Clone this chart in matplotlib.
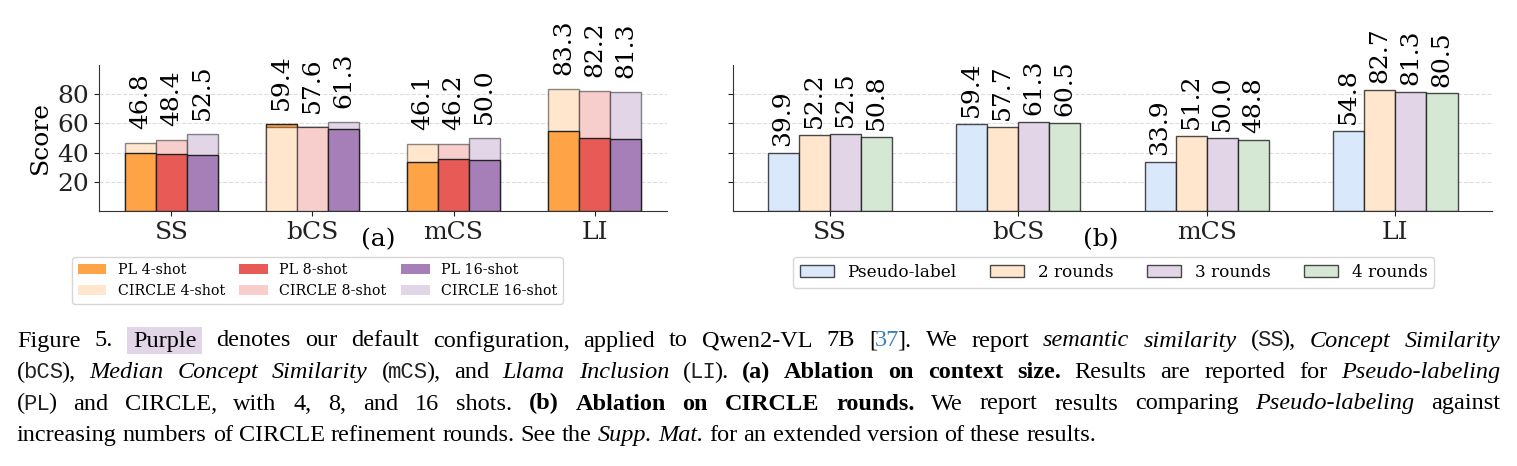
import matplotlib
matplotlib.use('Agg')
import matplotlib.pyplot as plt
import numpy as np
from matplotlib.patches import Patch, Rectangle

metrics = ['SS', 'bCS', 'mCS', 'LI']

# (a) ablation on context size
shots = ['4-shot', '8-shot', '16-shot']
pl_scores = [
    [39.9, 59.4, 33.9, 54.8],   # PL 4-shot
    [39.1, 57.6, 35.8, 50.0],   # PL 8-shot
    [38.4, 56.1, 34.6, 49.6],   # PL 16-shot
]
circle_scores = [
    [46.8, 57.7, 46.1, 83.3],   # CIRCLE 4-shot
    [48.4, 57.6, 46.2, 82.2],   # CIRCLE 8-shot
    [52.5, 61.3, 50.0, 81.3],   # CIRCLE 16-shot
]
pl_colors = ['#ffa347', '#e85a56', '#a67fb8']
circle_colors = ['#ffe6cc', '#f8cecc', '#e1d5e7']

# (b) ablation on CIRCLE rounds
rounds = ['Pseudo-label', '2 rounds', '3 rounds', '4 rounds']
round_scores = [
    [39.9, 59.4, 33.9, 54.8],
    [52.2, 57.7, 51.2, 82.7],
    [52.5, 61.3, 50.0, 81.3],
    [50.8, 60.5, 48.8, 80.5],
]
round_colors = ['#dae8fc', '#ffe6cc', '#e1d5e7', '#d5e8d4']

plt.rcParams['font.family'] = 'DejaVu Serif'

W, H = 1517, 466
fig = plt.figure(figsize=(W / 100, H / 100), dpi=100)


def fx(px):
    return px / W


def fy(py):
    return 1 - py / H


ax_a = fig.add_axes([fx(99), fy(211), (667 - 99) / W, (211 - 65) / H])
ax_b = fig.add_axes([fx(733), fy(211), (1492 - 733) / W, (211 - 65) / H], sharey=ax_a)

for ax in (ax_a, ax_b):
    for s in ('top', 'right'):
        ax.spines[s].set_visible(False)
    for s in ('left', 'bottom'):
        ax.spines[s].set_color('#333333')
    ax.grid(axis='y', linestyle='--', color='#dddddd', linewidth=0.8)
    ax.set_axisbelow(True)
    ax.tick_params(labelsize=18, colors='#222222')

x = np.arange(len(metrics))

# ---- (a)
w = 0.22
for i in range(len(shots)):
    xs = x + (i - 1) * w
    pl = np.array(pl_scores[i])
    cs = np.array(circle_scores[i])
    under = pl >= cs
    ax_a.bar(xs[under], pl[under], w, color=pl_colors[i], edgecolor='#222222', linewidth=1, zorder=2)
    ax_a.bar(xs, cs, w, color=circle_colors[i], edgecolor=(0, 0, 0, 0.45), linewidth=1, zorder=3)
    ax_a.bar(xs[~under], pl[~under], w, color=pl_colors[i], edgecolor='#222222', linewidth=1, zorder=4)
    for xi, top in zip(xs, np.maximum(pl, cs)):
        ax_a.annotate(f'{top:.1f}', (xi, top), xytext=(0, 10), textcoords='offset points',
                      rotation=90, ha='center', va='bottom', fontsize=18)

ax_a.set_ylim(0, 100)
ax_a.set_yticks([20, 40, 60, 80])
ax_a.set_xticks(x)
ax_a.set_xticklabels(metrics)
ax_a.set_ylabel('Score', fontsize=18)
ax_a.text(0.491, -0.2, '(a)', transform=ax_a.transAxes, ha='center', va='center', fontsize=18)

handles = []
for i, shot in enumerate(shots):
    handles.append(Patch(facecolor=pl_colors[i], label=f'PL {shot}'))
    handles.append(Patch(facecolor=circle_colors[i], label=f'CIRCLE {shot}'))
ax_a.legend(handles=handles, ncol=3, fontsize=10.3, loc='upper left', columnspacing=1.0,
            bbox_to_anchor=(fx(72), fy(257)), bbox_transform=fig.transFigure,
            borderaxespad=0)

# ---- (b)
wb = 0.165
for i, name in enumerate(rounds):
    xs = x + (i - 1.5) * wb
    vals = round_scores[i]
    ax_b.bar(xs, vals, wb, color=round_colors[i], edgecolor=(0, 0, 0, 0.7),
             linewidth=1, label=name, zorder=2)
    for xi, v in zip(xs, vals):
        ax_b.annotate(f'{v:.1f}', (xi, v), xytext=(0, 5), textcoords='offset points',
                      rotation=90, ha='center', va='bottom', fontsize=18)

ax_b.set_xticks(x)
ax_b.set_xticklabels(metrics)
ax_b.tick_params(labelleft=False)
ax_b.text(0.485, -0.2, '(b)', transform=ax_b.transAxes, ha='center', va='center', fontsize=18)
ax_b.legend(ncol=4, fontsize=12.2, loc='upper left',
            bbox_to_anchor=(fx(793), fy(257)), bbox_transform=fig.transFigure,
            borderaxespad=0)

# ---- caption (justified, set word by word)
caption_lines = [
    [('Figure 5.', 'rm'), (' ', 'rm'), ('Purple', 'hl'),
     (' denotes our default configuration, applied to Qwen2-VL 7B [', 'rm'), ('37', 'link'),
     ('].  We report ', 'rm'), ('semantic similarity', 'it'), (' (', 'rm'), ('SS', 'tt'),
     ('), ', 'rm'), ('Concept Similarity', 'it')],
    [('(', 'rm'), ('bCS', 'tt'), ('), ', 'rm'), ('Median Concept Similarity', 'it'), (' (', 'rm'),
     ('mCS', 'tt'), ('), and ', 'rm'), ('Llama Inclusion', 'it'), (' (', 'rm'), ('LI', 'tt'),
     ('). ', 'rm'), ('(a) Ablation on context size.', 'bf'), (' Results are reported for ', 'rm'),
     ('Pseudo-labeling', 'it')],
    [('(', 'rm'), ('PL', 'tt'), (') and CIRCLE, with 4, 8, and 16 shots. ', 'rm'),
     ('(b) Ablation on CIRCLE rounds.', 'bf'), (' We report results comparing ', 'rm'),
     ('Pseudo-labeling', 'it'), (' against', 'rm')],
    [('increasing numbers of CIRCLE refinement rounds. See the ', 'rm'), ('Supp. Mat.', 'it'),
     (' for an extended version of these results.', 'rm')],
]
cap_size = 17.5
styles = {
    'rm': dict(family='Liberation Serif', fontsize=cap_size),
    'it': dict(family='Liberation Serif', style='italic', fontsize=cap_size),
    'bf': dict(family='Liberation Serif', weight='bold', fontsize=cap_size),
    'tt': dict(family='Liberation Mono', fontsize=cap_size - 1.5, color='#222222'),
    'link': dict(family='Liberation Serif', color='#3a7ebf', fontsize=cap_size),
    'hl': dict(family='Liberation Serif', fontsize=cap_size),
}
baselines = [346.5, 378, 409.5, 441]
x0, x1 = 17, 1500
space = 6.0
inner = -2.0
renderer = fig.canvas.get_renderer()


def split_words(runs):
    words = [[]]
    for text, st in runs:
        for k, part in enumerate(text.split(' ')):
            if k > 0:
                words.append([])
            if part:
                words[-1].append((part, st))
    return [wd for wd in words if wd]


for n, runs in enumerate(caption_lines):
    words = split_words(runs)
    laid = []
    for word in words:
        items = []
        for part, st in word:
            t = fig.text(0, 0, part, va='baseline', ha='left', **styles[st])
            pw = t.get_window_extent(renderer).width
            pad = 6 if st == 'hl' else 0
            items.append((t, pw, pad, st))
        width = sum(pw + 2 * pad for _, pw, pad, _ in items) + inner * (len(items) - 1)
        laid.append((items, width))
    if n < len(caption_lines) - 1:
        gap = (x1 - x0 - sum(wd for _, wd in laid)) / (len(laid) - 1)
    else:
        gap = space
    xp = x0
    by = baselines[n]
    for items, width in laid:
        for t, pw, pad, st in items:
            xp += pad
            t.set_position((fx(xp), fy(by)))
            if st == 'hl':
                fig.patches.append(Rectangle((fx(xp - pad), fy(by + 7)), (pw + 2 * pad) / W, 27 / H,
                                             transform=fig.transFigure, facecolor='#e1d5e7',
                                             edgecolor='none', zorder=0))
            xp += pw + pad + inner
        xp += gap - inner

fig.savefig('out.png', dpi=100)
